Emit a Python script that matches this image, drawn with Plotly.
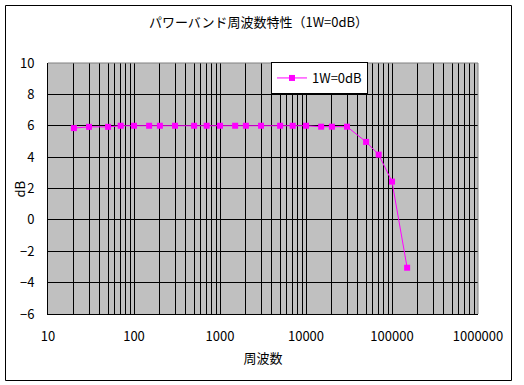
import plotly.graph_objects as go

freq_hz = [20, 30, 50, 70, 100, 150, 200, 300, 500, 700, 1000, 1500, 2000, 3000,
           5000, 7000, 10000, 15000, 20000, 30000, 50000, 70000, 100000, 150000]
gain_db = [5.85, 5.93, 5.93, 6.0, 6.0, 6.0, 6.0, 6.0, 6.0, 6.0, 6.0, 6.0, 6.0, 6.0,
           6.0, 6.0, 6.0, 5.94, 5.94, 5.94, 4.97, 4.16, 2.44, -3.05]
series_name = "1W=0dB"
y_tick_vals = [-6, -4, -2, 0, 2, 4, 6, 8, 10]

FONT = "Noto Sans CJK JP, Liberation Sans, sans-serif"

fig = go.Figure()
fig.add_trace(go.Scatter(
    x=freq_hz, y=gain_db, name=series_name, mode="lines+markers",
    line=dict(color="#FF00FF", width=1),
    marker=dict(symbol="square", size=6, color="#FF00FF"),
    showlegend=True,
))

L, R, T, B = 48, 478, 63, 314
W, H = 524, 385

def px_x(p):
    return (p - L) / (R - L)

def px_y(p):
    return (B - p) / (B - T)

fig.update_layout(
    width=W, height=H, autosize=False,
    margin=dict(l=L, r=W - R, t=T, b=H - B, pad=0),
    paper_bgcolor="white",
    plot_bgcolor="#C0C0C0",
    font=dict(family=FONT, size=13, color="black"),
    title=dict(text="パワーバンド周波数特性（1W=0dB）", x=258.5 / W, xref="container",
               xanchor="center", y=1 - 22.5 / H, yref="container", yanchor="middle",
               font=dict(size=13, family=FONT, color="black")),
    xaxis=dict(
        type="log", range=[1, 6], tickmode="linear", tick0=0, dtick=1,
        tickformat="d",
        showgrid=True, gridcolor="black", gridwidth=1,
        minor=dict(dtick="D1", showgrid=True, gridcolor="black", gridwidth=1, ticks=""),
        showline=True, linecolor="black", linewidth=1,
        ticks="", ticklabelstandoff=10, zeroline=False, automargin=False,
        title=dict(text="周波数", standoff=10, font=dict(size=13)),
        tickfont=dict(size=13),
    ),
    yaxis=dict(
        range=[-6, 10], tickvals=y_tick_vals,
        showgrid=True, gridcolor="black", gridwidth=1,
        showline=True, linecolor="black", linewidth=1,
        ticks="", ticklabelstandoff=10, zeroline=False, automargin=False,
        tickfont=dict(size=13),
    ),
    legend=dict(
        x=px_x(271), y=px_y(62), xanchor="left", yanchor="top",
        bgcolor="white", bordercolor="black", borderwidth=1,
        font=dict(size=13), itemwidth=30,
    ),
    annotations=[
        dict(text="dB", xref="paper", yref="paper", x=px_x(19), y=0.5,
             xanchor="center", yanchor="middle", textangle=-90, showarrow=False,
             font=dict(size=13, family=FONT, color="black")),
    ],
    shapes=[
        dict(type="line", xref="paper", yref="paper", x0=0, x1=1, y0=1, y1=1,
             line=dict(color="#808080", width=1), layer="above"),
        dict(type="line", xref="paper", yref="paper", x0=1, x1=1, y0=0, y1=1,
             line=dict(color="#808080", width=1), layer="above"),
        dict(type="rect", xref="paper", yref="paper",
             x0=px_x(5.5), x1=px_x(511.5), y0=px_y(380.5), y1=px_y(5.5),
             line=dict(color="black", width=1), layer="above"),
    ],
)

fig.write_html("out.html", config={"displayModeBar": False},
               post_script="document.body.style.margin='0';")
